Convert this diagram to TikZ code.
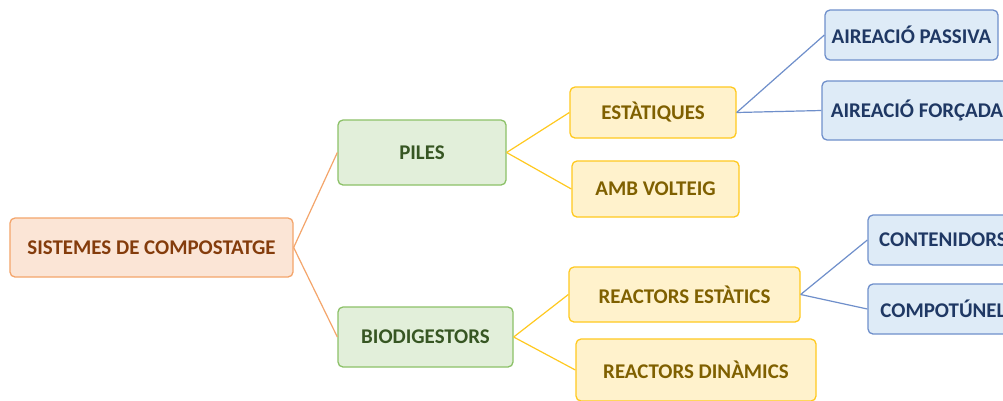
\documentclass[tikz,border=0pt]{standalone}
\usepackage{fontspec}
\setmainfont{Carlito}
\definecolor{orLine}{HTML}{F4A56B}
\definecolor{orFill}{HTML}{FBE5D6}
\definecolor{orText}{HTML}{843C0C}
\definecolor{grLine}{HTML}{8CC168}
\definecolor{grFill}{HTML}{E2EFDA}
\definecolor{grText}{HTML}{375623}
\definecolor{yeLine}{HTML}{FFC91F}
\definecolor{yeFill}{HTML}{FFF2CC}
\definecolor{yeText}{HTML}{7F6000}
\definecolor{blLine}{HTML}{6F8FCB}
\definecolor{blFill}{HTML}{DEEBF7}
\definecolor{blText}{HTML}{1F3864}
\tikzset{
  box/.style={rectangle, rounded corners=5bp, line width=1.3bp, inner sep=0pt,
    font=\fontsize{21}{24}\selectfont\bfseries},
  orbox/.style={box, draw=orLine, fill=orFill, text=orText},
  grbox/.style={box, draw=grLine, fill=grFill, text=grText},
  yebox/.style={box, draw=yeLine, fill=yeFill, text=yeText},
  blbox/.style={box, draw=blLine, fill=blFill, text=blText},
  orlink/.style={draw=orLine, line width=1.2bp},
  yelink/.style={draw=yeLine, line width=1.2bp},
  bllink/.style={draw=blLine, line width=1.2bp},
}
\begin{document}
\begin{tikzpicture}[x=1bp, y=-1bp]
\useasboundingbox (0,0) rectangle (1003,400);
\clip (0,0) rectangle (1003,400);
\fill[white] (0,0) rectangle (1003,400);

% root
\node[orbox, minimum width=283bp, minimum height=59bp] (sis) at (151.5,247.5) {SISTEMES DE COMPOSTATGE};

% second level
\node[grbox, minimum width=168bp, minimum height=65bp] (piles) at (422,152.5) {PILES};
\node[grbox, minimum width=175bp, minimum height=60bp] (bio) at (425.5,337) {BIODIGESTORS};

% third level
\node[yebox, minimum width=166bp, minimum height=51bp] (est) at (653,112.5) {ESTÀTIQUES};
\node[yebox, minimum width=167bp, minimum height=56bp] (amb) at (655.5,189) {AMB VOLTEIG};
\node[yebox, minimum width=231bp, minimum height=55bp] (rest) at (684.5,294.5) {REACTORS ESTÀTICS};
\node[yebox, minimum width=240bp, minimum height=62bp] (rdin) at (696,370) {REACTORS DINÀMICS};

% fourth level
\node[blbox, minimum width=173bp, minimum height=50bp] (ap) at (911.5,35) {AIREACIÓ PASSIVA};
\node[blbox, minimum width=190bp, minimum height=59bp] (af) at (917,110.5) {AIREACIÓ FORÇADA};
\node[blbox, minimum width=150bp, minimum height=50bp] (cont) at (943,240) {CONTENIDORS};
\node[blbox, minimum width=150bp, minimum height=50bp] (comp) at (943,309) {COMPOTÚNEL};

% connectors
\draw[orlink] (sis.east) -- (piles.west);
\draw[orlink] (sis.east) -- (bio.west);
\draw[yelink] (piles.east) -- (est.west);
\draw[yelink] (piles.east) -- (amb.west);
\draw[yelink] (bio.east) -- (rest.west);
\draw[yelink] (bio.east) -- (rdin.west);
\draw[bllink] (est.east) -- (ap.west);
\draw[bllink] (est.east) -- (af.west);
\draw[bllink] (rest.east) -- (cont.west);
\draw[bllink] (rest.east) -- (comp.west);
\end{tikzpicture}
\end{document}
